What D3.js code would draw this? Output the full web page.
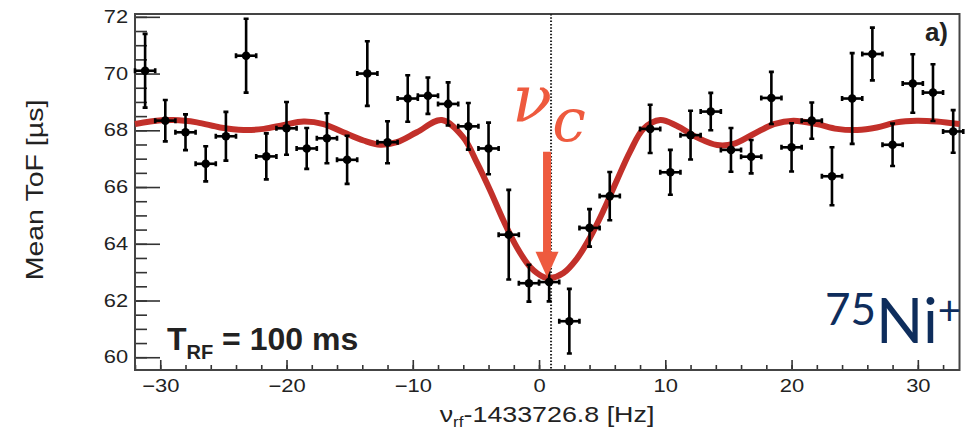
<!DOCTYPE html>
<html lang="en">
  <head>
    <meta charset="UTF-8" />
    <title>Mean ToF resonance</title>
    <style>
      body { margin: 0; background: #fff; }
      .axis text { font-family: 'Liberation Sans', Arial, sans-serif; fill: #222; }
      .axis line { stroke: #333; stroke-width: 1.6; }
      .axis path { display: none; }
    </style>
  </head>
  <body>
    <div id="chart"></div>
    <script src="https://d3js.org/d3.v7.min.js"></script>
    <script>
      // measured points (frequency offset in Hz, mean ToF in us)
      const freq = [-31.2, -29.6, -28.0, -26.4, -24.8, -23.2, -21.6, -20.0, -18.4, -16.8,
        -15.2, -13.6, -12.0, -10.4, -8.8, -7.2, -5.6, -4.0, -2.4, -0.8,
        0.8, 2.4, 4.0, 5.6, 8.8, 10.4, 12.0, 13.6, 15.2, 16.8,
        18.4, 20.0, 21.6, 23.2, 24.8, 26.4, 28.0, 29.6, 31.2, 32.8];
      const tof = [70.10, 68.34, 67.93, 66.82, 67.79, 70.63, 67.08, 68.07, 67.36, 67.72,
        66.96, 70.00, 67.58, 69.12, 69.22, 68.93, 68.14, 67.36, 64.32, 62.61,
        62.65, 61.27, 64.56, 65.68, 68.05, 66.52, 67.83, 68.66, 67.31, 67.07,
        69.14, 67.40, 68.34, 66.38, 69.12, 70.69, 67.49, 69.65, 69.33, 67.96];
      const tofErr = [1.30, 0.73, 0.63, 0.62, 0.86, 1.30, 0.81, 0.93, 0.72, 0.88,
        0.85, 1.14, 0.74, 0.82, 0.64, 0.76, 0.82, 0.91, 1.58, 0.65,
        0.68, 1.14, 0.66, 0.85, 0.85, 0.79, 0.86, 0.66, 0.77, 0.59,
        0.92, 0.85, 0.64, 1.02, 1.60, 0.93, 0.75, 1.03, 1.00, 0.75];
      const binHalfWidth = 0.8;

      // fitted line
      const fitFreq = [-32, -30.8, -28.95, -27.1, -25.25, -23.4, -21.8, -20.2, -18.65, -17.07,
        -15.5, -13.9, -12.58, -11.26, -9.68, -7.7, -6.0, -4.93, -3.87, -2.82,
        -1.76, -0.7, 0.35, 0.88, 1.93, 2.99, 4.05, 5.1, 6.16, 7.21,
        8.27, 9.6, 10.9, 12.5, 14.1, 15.4, 17.0, 18.6, 20.15, 22.0,
        23.6, 25.2, 26.75, 28.3, 29.9, 31.5, 33.3];
      const fitTof = [68.22, 68.31, 68.36, 68.28, 68.10, 68.01, 68.05, 68.19, 68.31, 68.22,
        67.93, 67.64, 67.49, 67.58, 67.93, 68.36, 67.75, 66.87, 65.88, 64.82,
        63.88, 63.18, 62.83, 62.79, 62.97, 63.47, 64.23, 65.17, 66.23, 67.25,
        68.05, 68.36, 68.16, 67.75, 67.48, 67.52, 67.87, 68.22, 68.34, 68.22,
        68.05, 68.01, 68.10, 68.28, 68.34, 68.31, 68.22];

      const nuC = 0.95;
      const xTicks = [-30, -20, -10, 0, 10, 20, 30];
      const yTicks = [60, 62, 64, 66, 68, 70, 72];

      const W = 965, H = 432;
      const plot = { left: 135, right: 959.5, top: 14, bottom: 370 };

      const svg = d3.select('#chart').append('svg')
        .attr('width', W).attr('height', H);

      const x = d3.scaleLinear().domain([-32, 33.3]).range([plot.left, plot.right]);
      const y = d3.scaleLinear().domain([59.55, 72.1]).range([plot.bottom, plot.top]);

      // minor ticks
      svg.append('g').attr('class', 'axis')
        .attr('transform', `translate(0,${plot.bottom})`)
        .call(d3.axisBottom(x).tickValues(d3.range(-32, 33.3, 2)).tickSize(-5).tickFormat(''));
      svg.append('g').attr('class', 'axis')
        .attr('transform', `translate(${plot.left},0)`)
        .call(d3.axisLeft(y).tickValues(d3.range(60, 72.01, 0.5)).tickSize(-12).tickFormat(''));

      // major ticks
      const gx = svg.append('g').attr('class', 'axis')
        .attr('transform', `translate(0,${plot.bottom})`)
        .call(d3.axisBottom(x).tickValues(xTicks).tickSize(-10).tickPadding(9));
      gx.selectAll('text').style('font-size', '18px').attr('transform', 'scale(1.22,1)');

      const gy = svg.append('g').attr('class', 'axis')
        .attr('transform', `translate(${plot.left},0)`)
        .call(d3.axisLeft(y).tickValues(yTicks).tickSize(-25).tickPadding(5.5));
      gy.selectAll('text').style('font-size', '17.5px').attr('transform', 'scale(1.25,1)');

      // frame
      svg.append('rect')
        .attr('x', plot.left).attr('y', plot.top)
        .attr('width', plot.right - plot.left).attr('height', plot.bottom - plot.top)
        .attr('fill', 'none').attr('stroke', '#444').attr('stroke-width', 2);

      // nu_c marker line
      svg.append('line')
        .attr('x1', x(nuC)).attr('x2', x(nuC))
        .attr('y1', plot.top).attr('y2', plot.bottom)
        .attr('stroke', '#222').attr('stroke-width', 2)
        .attr('stroke-dasharray', '1.5,1.8');

      // fit
      const line = d3.line()
        .x((d, i) => x(fitFreq[i]))
        .y((d) => y(d))
        .curve(d3.curveCatmullRom.alpha(0.5));
      svg.append('path')
        .datum(fitTof)
        .attr('d', line)
        .attr('fill', 'none')
        .attr('stroke', '#c2302a')
        .attr('stroke-width', 6);

      // points with error bars
      const pts = svg.append('g').selectAll('g')
        .data(freq.map((f, i) => ({ f, v: tof[i], e: tofErr[i] })))
        .join('g')
        .attr('stroke', '#000').attr('stroke-width', 2.6);

      pts.append('line')
        .attr('x1', (d) => x(d.f)).attr('x2', (d) => x(d.f))
        .attr('y1', (d) => y(d.v - d.e)).attr('y2', (d) => y(d.v + d.e));
      pts.append('line')
        .attr('x1', (d) => x(d.f - binHalfWidth)).attr('x2', (d) => x(d.f + binHalfWidth))
        .attr('y1', (d) => y(d.v)).attr('y2', (d) => y(d.v));
      // caps
      pts.append('path')
        .attr('d', (d) => {
          const cx = x(d.f), t = y(d.v + d.e), b = y(d.v - d.e);
          const l = x(d.f - binHalfWidth), r = x(d.f + binHalfWidth), cy = y(d.v);
          return `M${cx - 2.5},${t}H${cx + 2.5}M${cx - 2.5},${b}H${cx + 2.5}` +
            `M${l},${cy - 2.5}V${cy + 2.5}M${r},${cy - 2.5}V${cy + 2.5}`;
        });
      pts.append('circle')
        .attr('cx', (d) => x(d.f)).attr('cy', (d) => y(d.v))
        .attr('r', 4.3).attr('fill', '#000').attr('stroke', 'none');

      // arrow to nu_c
      const ax = x(nuC) - 4;
      svg.append('line')
        .attr('x1', ax).attr('x2', ax)
        .attr('y1', y(67.24)).attr('y2', y(63.6))
        .attr('stroke', '#ee5a3e').attr('stroke-width', 8);
      svg.append('path')
        .attr('d', `M${ax - 11.5},${y(63.72)}L${ax + 11.5},${y(63.72)}L${ax},${y(62.82)}Z`)
        .attr('fill', '#ee5a3e');

      svg.append('text')
        .attr('x', 512).attr('y', 122)
        .attr('font-family', 'DejaVu Serif').attr('font-style', 'italic')
        .attr('fill', '#ee5a3e')
        .style('font-size', '66px')
        .text('ν')
        .append('tspan').attr('dy', 19).style('font-size', '60px').text('c');

      // labels
      const lab = svg.append('g')
        .attr('font-family', "'Liberation Sans', Arial, sans-serif")
        .attr('fill', '#222');

      const tRF = lab.append('text')
        .attr('x', 167).attr('y', 350)
        .attr('font-weight', 'bold').style('font-size', '32px');
      tRF.append('tspan').text('T');
      tRF.append('tspan').attr('dy', 9).style('font-size', '20px').text('RF');
      tRF.append('tspan').attr('dy', -9).text(' = 100 ms');

      lab.append('text')
        .attr('x', 948).attr('y', 41)
        .attr('text-anchor', 'end')
        .attr('font-weight', 'bold').style('font-size', '26px')
        .text('a)');

      const xt = lab.append('text')
        .attr('transform', `translate(547,422) scale(1.22,1)`)
        .attr('text-anchor', 'middle').style('font-size', '22px');
      xt.append('tspan').text('ν');
      xt.append('tspan').attr('dy', 5).style('font-size', '14px').text('rf');
      xt.append('tspan').attr('dy', -5).text('-1433726.8 [Hz]');

      lab.append('text')
        .attr('transform', 'translate(43,190) rotate(-90) scale(1.24,1)')
        .attr('text-anchor', 'middle').style('font-size', '23px')
        .text('Mean ToF [µs]');

      const iso = svg.append('text')
        .attr('x', 825).attr('y', 325)
        .attr('font-family', 'Lato, sans-serif')
        .attr('fill', '#0e2d5c');
      iso.append('tspan').style('font-size', '44px').text('75');
      iso.append('tspan').attr('dy', 18).style('font-size', '62px').text('Ni');
      iso.append('tspan').attr('dy', -18).style('font-size', '40px').text('+');
    </script>
  </body>
</html>
